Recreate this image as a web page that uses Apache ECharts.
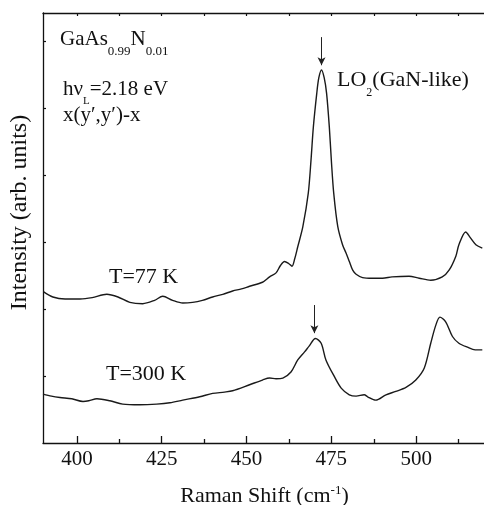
<!DOCTYPE html>
<html>
<head>
<meta charset="utf-8">
<script src="https://cdn.jsdelivr.net/npm/echarts@6/dist/echarts.min.js"></script>
<style>html,body{margin:0;padding:0;background:#fff;}#chart{width:484px;height:505px;}</style>
</head>
<body>
<div id="chart"></div>
<script>
// Raman shift (cm^-1) and intensity (arb. units), T = 77 K (upper curve)
var shift77 = [390.1,392.9,396.5,400.9,404.5,408.8,412.1,415.6,419.4,422.9,425.3,428.2,431.2,434.1,437.0,440.0,443.0,445.9,448.5,450.9,454.7,456.8,458.7,460.0,461.2,462.4,463.4,464.2,465.1,466.6,468.2,469.0,469.7,470.7,471.3,472.1,472.9,473.6,474.4,475.0,475.7,476.9,478.3,479.3,480.3,481.3,482.3,484.2,487.1,490.1,492.9,497.9,500.9,504.3,507.7,509.7,511.7,512.6,514.6,515.9,517.6,519.5];
var int77   = [2.26,2.18,2.15,2.15,2.17,2.22,2.18,2.10,2.08,2.13,2.19,2.13,2.09,2.10,2.13,2.18,2.22,2.27,2.30,2.34,2.40,2.48,2.54,2.65,2.71,2.68,2.64,2.75,2.93,3.23,3.73,4.22,4.72,5.22,5.45,5.57,5.45,5.22,4.72,4.22,3.73,3.23,2.96,2.84,2.71,2.58,2.52,2.47,2.46,2.46,2.48,2.49,2.46,2.43,2.48,2.58,2.79,2.96,3.15,3.07,2.96,2.91];
// T = 300 K (lower curve)
var shift300 = [390.0,392.5,395.0,398.5,401.8,403.5,405.9,409.7,413.5,418.5,423.5,427.4,431.2,436.2,440.0,443.5,445.9,450.9,454.7,456.8,458.7,460.7,463.1,465.1,467.1,468.5,470.3,472.0,473.4,475.9,477.9,480.3,482.3,484.7,485.7,488.1,491.1,494.0,497.0,499.9,502.4,504.3,505.8,507.0,508.7,510.7,512.6,515.1,517.4,519.5];
var int300   = [0.73,0.70,0.68,0.66,0.62,0.63,0.66,0.63,0.58,0.57,0.58,0.60,0.64,0.69,0.74,0.76,0.78,0.87,0.94,0.97,0.96,0.97,1.06,1.24,1.36,1.45,1.56,1.49,1.24,0.99,0.82,0.72,0.70,0.72,0.69,0.64,0.72,0.77,0.83,0.94,1.12,1.49,1.76,1.88,1.81,1.59,1.49,1.43,1.39,1.39];
// arrows marking LO2 peaks: [shift, from, to]
var arrow77  = [472.1, 6.06, 5.64];
var arrow300 = [470.0, 2.06, 1.64];
var majorTicks = [400,425,450,475,500];
var minorTicks = [412.5,437.5,462.5,487.5,512.5];
var allTicks = [400,412.5,425,437.5,450,462.5,475,487.5,500,512.5];
var yTicks = [1,2,3,4,5,6];

function zip(a,b){var r=[];for(var i=0;i<a.length;i++)r.push([a[i],b[i]]);return r;}
var FF = 'Liberation Serif';
var chart = echarts.init(document.getElementById('chart'), null, {renderer:'canvas'});
var lineAxis = {show:true, lineStyle:{color:'#111', width:1.3}};
var option = {
  backgroundColor:'#fff',
  animation:false,
  grid:{left:43, top:13, width:442, height:430},
  xAxis:[
    {type:'value', min:390, max:520, position:'bottom', axisLine:lineAxis,
     axisTick:{show:true, inside:true, length:7, customValues:majorTicks, lineStyle:{color:'#111', width:1.3}},
     axisLabel:{show:true, customValues:majorTicks, fontFamily:FF, fontSize:21, color:'#111', margin:6},
     splitLine:{show:false}},
    {type:'value', min:390, max:520, position:'bottom', axisLine:{show:false},
     axisTick:{show:true, inside:true, length:4, customValues:minorTicks, lineStyle:{color:'#111', width:1.3}},
     axisLabel:{show:false}, splitLine:{show:false}},
    {type:'value', min:390, max:520, position:'top', axisLine:lineAxis,
     axisTick:{show:true, inside:true, length:3, customValues:allTicks, lineStyle:{color:'#111', width:1.2}},
     axisLabel:{show:false}, splitLine:{show:false}}
  ],
  yAxis:[
    {type:'value', min:0, max:6.42, position:'left', axisLine:lineAxis,
     axisTick:{show:true, inside:true, length:3, customValues:yTicks, lineStyle:{color:'#111', width:1.2}},
     axisLabel:{show:false}, splitLine:{show:false}}
  ],
  series:[
    {type:'line', name:'T=77 K', data:zip(shift77,int77), showSymbol:false, smooth:0.3,
     lineStyle:{color:'#1a1a1a', width:1.4},
     markLine:{silent:true, symbol:['none','arrow'], symbolSize:[6,8], label:{show:false},
       lineStyle:{color:'#222', width:1, type:'solid'},
       data:[[{coord:[arrow77[0],arrow77[1]]},{coord:[arrow77[0],arrow77[2]]}]]}},
    {type:'line', name:'T=300 K', data:zip(shift300,int300), showSymbol:false, smooth:0.3,
     lineStyle:{color:'#1a1a1a', width:1.4},
     markLine:{silent:true, symbol:['none','arrow'], symbolSize:[6,8], label:{show:false},
       lineStyle:{color:'#222', width:1, type:'solid'},
       data:[[{coord:[arrow300[0],arrow300[1]]},{coord:[arrow300[0],arrow300[2]]}]]}}
  ],
  graphic:[
    {type:'text', x:60, y:39, style:{text:'{a|GaAs}{b|0.99}{a|N}{b|0.01}', verticalAlign:'middle',
      rich:{a:{fontFamily:FF, fontSize:21, lineHeight:38, fill:'#111'}, b:{fontFamily:FF, fontSize:13, lineHeight:13, verticalAlign:'bottom', fill:'#111'}}}},
    {type:'text', x:63, y:89.6, style:{text:'{a|hν}{b|L}{a|=2.18 eV}', verticalAlign:'middle',
      rich:{a:{fontFamily:FF, fontSize:21, lineHeight:35, fill:'#111'}, b:{fontFamily:FF, fontSize:11, lineHeight:11, verticalAlign:'bottom', fill:'#111'}}}},
    {type:'text', x:63, y:115, style:{text:'x(y′,y′)-x', verticalAlign:'middle', font:'21px "Liberation Serif"', fill:'#111'}},
    {type:'text', x:337, y:80.2, style:{text:'{a|LO}{b|2}{a|(GaN-like)}', verticalAlign:'middle',
      rich:{a:{fontFamily:FF, fontSize:22, lineHeight:37, fill:'#111'}, b:{fontFamily:FF, fontSize:12, lineHeight:12, verticalAlign:'bottom', fill:'#111'}}}},
    {type:'text', x:109, y:277, style:{text:'T=77 K', verticalAlign:'middle', font:'22px "Liberation Serif"', fill:'#111'}},
    {type:'text', x:106, y:374.6, style:{text:'T=300 K', verticalAlign:'middle', font:'22px "Liberation Serif"', fill:'#111'}},
    {type:'text', x:264.5, y:496.2, style:{text:'{a|Raman Shift (cm}{b|-1}{a|)}', align:'center', verticalAlign:'middle',
      rich:{a:{fontFamily:FF, fontSize:22, lineHeight:24, fill:'#111'}, b:{fontFamily:FF, fontSize:13, lineHeight:13, verticalAlign:'top', fill:'#111'}}}},
    {type:'text', x:19.5, y:212.5, rotation:Math.PI/2, style:{text:'Intensity (arb. units)', align:'center', verticalAlign:'middle', font:'24px "Liberation Serif"', fill:'#111'}}
  ]
};
chart.setOption(option);
</script>
</body>
</html>
